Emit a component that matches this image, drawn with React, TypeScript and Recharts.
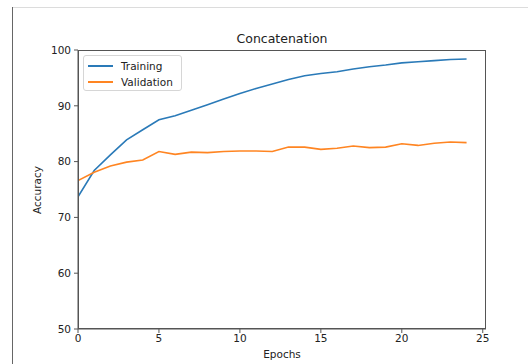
import { LineChart, Line, XAxis, YAxis } from "recharts";

const epochs = [0, 1, 2, 3, 4, 5, 6, 7, 8, 9, 10, 11, 12, 13, 14, 15, 16, 17, 18, 19, 20, 21, 22, 23, 24];
const training = [
  73.7, 78.4, 81.2, 83.9, 85.7, 87.5, 88.2, 89.2, 90.2, 91.2, 92.2, 93.1, 93.9, 94.7, 95.4,
  95.8, 96.1, 96.6, 97.0, 97.3, 97.7, 97.9, 98.1, 98.3, 98.4,
];
const validation = [
  76.6, 78.1, 79.2, 79.9, 80.3, 81.8, 81.3, 81.7, 81.6, 81.8, 81.9, 81.9, 81.8, 82.6, 82.6,
  82.2, 82.4, 82.8, 82.5, 82.6, 83.2, 82.9, 83.3, 83.5, 83.4,
];
const xTicks = [0, 5, 10, 15, 20, 25];
const yTicks = [50, 60, 70, 80, 90, 100];

const data = epochs.map((e, i) => ({ epoch: e, training: training[i], validation: validation[i] }));

const FONT = "'DejaVu Sans', sans-serif";
const AXIS = "#555";
const BLUE = "#2a7ab8";
const ORANGE = "#ff8522";
const tickStyle = { fontSize: 10.5, fill: "#222", fontFamily: FONT };

function LegendBox() {
  const items = [
    { name: "Training", color: BLUE },
    { name: "Validation", color: ORANGE },
  ];
  return (
    <div
      style={{
        position: "absolute",
        left: 83,
        top: 55,
        width: 99,
        height: 36,
        border: "1px solid #d6d6d6",
        borderRadius: 3,
        background: "rgba(255,255,255,0.8)",
        boxSizing: "border-box",
        padding: "2px 0 0 4px",
        fontFamily: FONT,
        fontSize: 10.5,
        color: "#222",
      }}
    >
      {items.map((it) => (
        <div key={it.name} style={{ display: "flex", alignItems: "center", height: 16 }}>
          <span style={{ display: "inline-block", width: 25, height: 2, background: it.color, marginRight: 8 }} />
          {it.name}
        </div>
      ))}
    </div>
  );
}

export default function App() {
  return (
    <div style={{ position: "absolute", left: 0, top: 0, width: 528, height: 364, background: "#fff", overflow: "hidden" }}>
      <div style={{ position: "absolute", left: 12, top: 7, width: 516, height: 1, background: "#dcdcdc" }} />
      <div style={{ position: "absolute", left: 12, top: 7, width: 1, height: 357, background: "#666" }} />
      <LineChart
        width={528}
        height={364}
        data={data}
        margin={{ top: 50, right: 42, bottom: 5, left: 18 }}
        style={{ position: "absolute", left: 0, top: 0 }}
      >
        <XAxis
          dataKey="epoch"
          type="number"
          domain={[0, 25.2]}
          ticks={xTicks}
          allowDataOverflow
          height={30}
          stroke={AXIS}
          tickSize={4}
          tickMargin={2}
          tick={tickStyle}
          tickLine={{ stroke: AXIS }}
        />
        <YAxis
          type="number"
          domain={[50, 100]}
          ticks={yTicks}
          allowDataOverflow
          width={60}
          stroke={AXIS}
          tickSize={4}
          tickMargin={3}
          tick={tickStyle}
          tickLine={{ stroke: AXIS }}
        />
        <Line
          dataKey="training"
          name="Training"
          stroke={BLUE}
          strokeWidth={1.6}
          dot={false}
          type="linear"
          isAnimationActive={false}
        />
        <Line
          dataKey="validation"
          name="Validation"
          stroke={ORANGE}
          strokeWidth={1.6}
          dot={false}
          type="linear"
          isAnimationActive={false}
        />
      </LineChart>
      <div
        style={{
          position: "absolute",
          left: 78,
          top: 50,
          width: 408,
          height: 279,
          border: `1px solid ${AXIS}`,
          boxSizing: "border-box",
          pointerEvents: "none",
        }}
      />
      <LegendBox />
      <div style={{ position: "absolute", left: 182, width: 200, top: 31, textAlign: "center", fontFamily: FONT, fontSize: 12.5, color: "#222" }}>
        Concatenation
      </div>
      <div style={{ position: "absolute", left: 182, width: 200, top: 348, textAlign: "center", fontFamily: FONT, fontSize: 10.5, color: "#222" }}>
        Epochs
      </div>
      <div
        style={{
          position: "absolute",
          left: 37,
          top: 190,
          transform: "translate(-50%, -50%) rotate(-90deg)",
          fontFamily: FONT,
          fontSize: 10.5,
          color: "#222",
          whiteSpace: "nowrap",
        }}
      >
        Accuracy
      </div>
    </div>
  );
}
